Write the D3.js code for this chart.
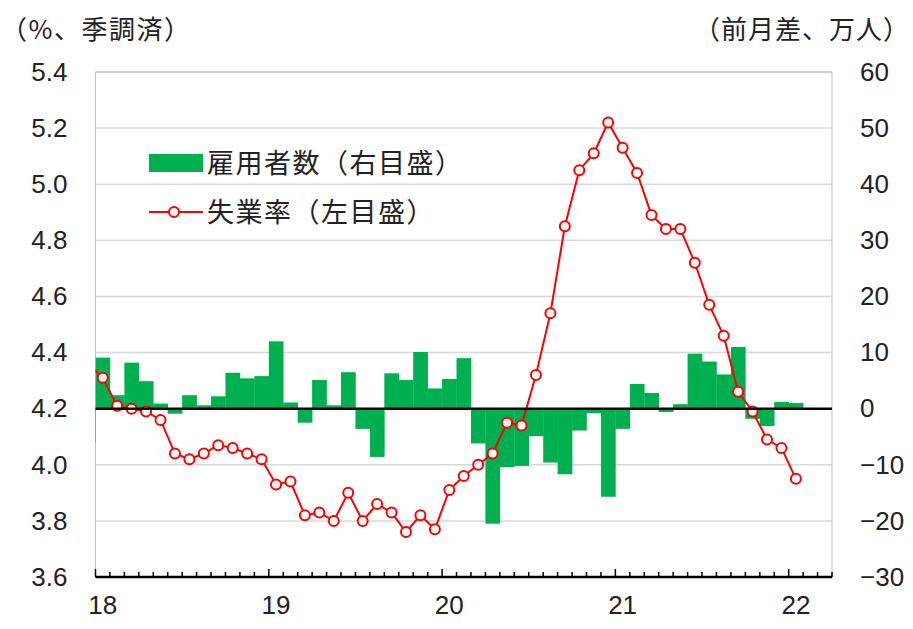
<!DOCTYPE html>
<html>
<head>
<meta charset="utf-8">
<script src="https://cdn.jsdelivr.net/npm/d3@7"></script>
<style>
    body { margin: 0; background: #fff; }
    #chart-container { width: 913px; height: 629px; }
    text { fill: #222; }
</style>
</head>
<body>
<div id="chart-container"></div>
<script>
// Month labels (YYYY-MM), first entry is Dec 2017 (clipped at the left edge)
const months = [
    '2017-12',
    '2018-01', '2018-02', '2018-03', '2018-04', '2018-05', '2018-06',
    '2018-07', '2018-08', '2018-09', '2018-10', '2018-11', '2018-12',
    '2019-01', '2019-02', '2019-03', '2019-04', '2019-05', '2019-06',
    '2019-07', '2019-08', '2019-09', '2019-10', '2019-11', '2019-12',
    '2020-01', '2020-02', '2020-03', '2020-04', '2020-05', '2020-06',
    '2020-07', '2020-08', '2020-09', '2020-10', '2020-11', '2020-12',
    '2021-01', '2021-02', '2021-03', '2021-04', '2021-05', '2021-06',
    '2021-07', '2021-08', '2021-09', '2021-10', '2021-11', '2021-12',
    '2022-01'
];

// Employment, change from previous month (10k persons, right axis)
const employment = [
    -6.0,
    9.1, 2.4, 8.2, 4.9, 0.9, -0.9, 2.4, 0.6, 2.2, 6.4, 5.4, 5.8,
    12.0, 1.1, -2.5, 5.1, 0.6, 6.5, -3.6, -8.6, 6.3, 5.1, 10.1, 3.6,
    5.3, 9.0, -6.2, -20.5, -10.4, -10.2, -4.9, -9.6, -11.7, -3.9, -0.8, -15.7,
    -3.6, 4.4, 2.8, -0.6, 0.8, 9.8, 8.4, 6.1, 11.0, -1.8, -3.1, 1.2,
    1.0
];

// Unemployment rate (%, seasonally adjusted, left axis)
const unemployment = [
    4.36,
    4.31, 4.21, 4.20, 4.19, 4.16, 4.04, 4.02, 4.04, 4.07, 4.06, 4.04, 4.02,
    3.93, 3.94, 3.82, 3.83, 3.80, 3.90, 3.80, 3.86, 3.83, 3.76, 3.82, 3.77,
    3.91, 3.96, 4.00, 4.04, 4.15, 4.14, 4.32, 4.54, 4.85, 5.05, 5.11, 5.22,
    5.13, 5.04, 4.89, 4.84, 4.84, 4.72, 4.57, 4.46, 4.26, 4.19, 4.09, 4.06,
    3.95
];

// Axis ticks and labels
const leftTicks = [3.6, 3.8, 4.0, 4.2, 4.4, 4.6, 4.8, 5.0, 5.2, 5.4];
const rightTicks = [-30, -20, -10, 0, 10, 20, 30, 40, 50, 60];
const yearLabels = ['18', '19', '20', '21', '22'];
const leftTitle = '（%、季調済）';
const rightTitle = '（前月差、万人）';
const legendLabels = ['雇用者数（右目盛）', '失業率（左目盛）'];

const axisStart = { year: 2018, month: 1 };
const monthCount = 51; // Jan 2018 .. Mar 2022

let svg;
let x;
let yLeft;
let yRight;

const margin = { top: 72, right: 81, bottom: 52, left: 95.5 };
const width = 913;
const height = 629;
const green = '#00b050';
const red = '#ff0000';
const numFont = '"Liberation Sans", Arial, sans-serif';
const jpFont = '"Noto Sans CJK JP", sans-serif';

// month string -> index relative to Jan 2018
function monthIndex(m) {
    const [yy, mm] = m.split('-').map(Number);
    return (yy - axisStart.year) * 12 + (mm - axisStart.month);
}

function drawChart() {
    svg = d3.select('#chart-container')
        .append('svg')
        .attr('width', width)
        .attr('height', height);

    const plotLeft = margin.left;
    const plotRight = width - margin.right;
    const plotTop = margin.top;
    const plotBottom = height - margin.bottom;

    x = d3.scaleLinear().domain([0, monthCount]).range([plotLeft, plotRight]);
    yLeft = d3.scaleLinear().domain([3.6, 5.4]).range([plotBottom, plotTop]);
    yRight = d3.scaleLinear().domain([-30, 60]).range([plotBottom, plotTop]);

    svg.append('clipPath')
        .attr('id', 'plot-clip')
        .append('rect')
        .attr('x', plotLeft)
        .attr('y', plotTop - 10)
        .attr('width', plotRight - plotLeft)
        .attr('height', plotBottom - plotTop + 10);

    // gridlines
    svg.append('g')
        .selectAll('line')
        .data(leftTicks)
        .enter()
        .append('line')
        .attr('x1', plotLeft)
        .attr('x2', plotRight)
        .attr('y1', d => yLeft(d))
        .attr('y2', d => yLeft(d))
        .attr('stroke', '#d9d9d9')
        .attr('stroke-width', 1.5);

    // plot border (left / right)
    svg.append('path')
        .attr('d', `M${plotLeft},${plotBottom}V${plotTop}H${plotRight}V${plotBottom}`)
        .attr('fill', 'none')
        .attr('stroke', '#bfbfbf')
        .attr('stroke-width', 1);

    const data = months.map((m, i) => ({
        i: monthIndex(m),
        emp: employment[i],
        rate: unemployment[i]
    }));

    const plot = svg.append('g').attr('clip-path', 'url(#plot-clip)');

    // employment bars
    plot.append('g')
        .selectAll('rect')
        .data(data)
        .enter()
        .append('rect')
        .attr('x', d => x(d.i))
        .attr('width', d => x(d.i + 1) - x(d.i) + 0.3)
        .attr('y', d => yRight(Math.max(0, d.emp)))
        .attr('height', d => Math.abs(yRight(d.emp) - yRight(0)))
        .attr('fill', green);

    // zero line
    svg.append('line')
        .attr('x1', plotLeft)
        .attr('x2', plotRight)
        .attr('y1', yRight(0))
        .attr('y2', yRight(0))
        .attr('stroke', '#000')
        .attr('stroke-width', 2.5);

    // unemployment line
    const line = d3.line()
        .x(d => x(d.i + 0.5))
        .y(d => yLeft(d.rate));

    plot.append('path')
        .datum(data)
        .attr('d', line)
        .attr('fill', 'none')
        .attr('stroke', red)
        .attr('stroke-width', 2);

    plot.append('g')
        .selectAll('circle')
        .data(data)
        .enter()
        .append('circle')
        .attr('cx', d => x(d.i + 0.5))
        .attr('cy', d => yLeft(d.rate))
        .attr('r', 5)
        .attr('fill', '#fff')
        .attr('stroke', red)
        .attr('stroke-width', 2);

    // x axis with month ticks
    const xAxis = svg.append('g');
    xAxis.append('line')
        .attr('x1', plotLeft)
        .attr('x2', plotRight)
        .attr('y1', plotBottom)
        .attr('y2', plotBottom)
        .attr('stroke', '#000')
        .attr('stroke-width', 2.5);

    xAxis.selectAll('line.tick')
        .data(d3.range(monthCount + 1))
        .enter()
        .append('line')
        .attr('class', 'tick')
        .attr('x1', d => x(d))
        .attr('x2', d => x(d))
        .attr('y1', plotBottom)
        .attr('y2', d => plotBottom - (d % 12 === 0 ? 8 : 5))
        .attr('stroke', '#000')
        .attr('stroke-width', 1.5);

    xAxis.selectAll('text')
        .data(yearLabels)
        .enter()
        .append('text')
        .attr('x', (d, i) => x(i * 12 + 0.5))
        .attr('y', plotBottom + 37)
        .attr('text-anchor', 'middle')
        .style('font-family', numFont)
        .style('font-size', '26px')
        .text(d => d);

    // left axis
    const leftAxis = svg.append('g')
        .attr('transform', `translate(${plotLeft},0)`)
        .call(d3.axisLeft(yLeft).tickValues(leftTicks).tickSize(0).tickPadding(28).tickFormat(d3.format('.1f')));
    leftAxis.select('.domain').remove();
    leftAxis.selectAll('text')
        .style('font-family', numFont)
        .style('font-size', '26px')
        .attr('fill', '#222');

    // right axis
    const rightAxis = svg.append('g')
        .attr('transform', `translate(${plotRight},0)`)
        .call(d3.axisRight(yRight).tickValues(rightTicks).tickSize(0).tickPadding(28));
    rightAxis.select('.domain').remove();
    rightAxis.selectAll('text')
        .style('font-family', numFont)
        .style('font-size', '26px')
        .attr('fill', '#222');

    // axis unit titles
    svg.append('text')
        .attr('x', 1)
        .attr('y', 39)
        .style('font-family', jpFont)
        .style('font-size', '26px')
        .style('letter-spacing', '1.5px')
        .text(leftTitle);

    svg.append('text')
        .attr('x', 910)
        .attr('y', 39)
        .attr('text-anchor', 'end')
        .style('font-family', jpFont)
        .style('font-size', '26px')
        .style('letter-spacing', '1px')
        .text(rightTitle);

    drawLegend();
}

// Legend in the upper left of the plot
function drawLegend() {
    const legend = svg.append('g');

    legend.append('rect')
        .attr('x', 149)
        .attr('y', 154)
        .attr('width', 54)
        .attr('height', 18)
        .attr('fill', green);

    legend.append('line')
        .attr('x1', 149)
        .attr('x2', 203)
        .attr('y1', 212)
        .attr('y2', 212)
        .attr('stroke', red)
        .attr('stroke-width', 2);

    legend.append('circle')
        .attr('cx', 174)
        .attr('cy', 212)
        .attr('r', 5)
        .attr('fill', '#fff')
        .attr('stroke', red)
        .attr('stroke-width', 2);

    legend.selectAll('text')
        .data(legendLabels)
        .enter()
        .append('text')
        .attr('x', 207)
        .attr('y', (d, i) => 163 + i * 49)
        .attr('dy', '0.36em')
        .style('font-family', jpFont)
        .style('font-size', '27px')
        .style('letter-spacing', '1.5px')
        .text(d => d);
}

document.addEventListener('DOMContentLoaded', drawChart);
</script>
</body>
</html>
